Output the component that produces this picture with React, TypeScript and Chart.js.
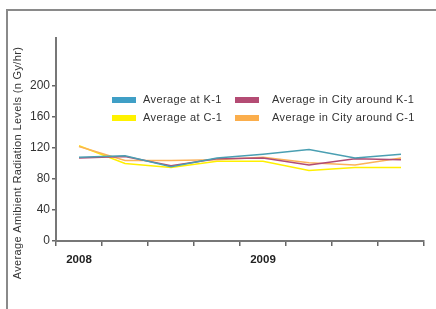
import { useEffect, useRef } from "react";
import { Chart, registerables } from "chart.js";

Chart.register(...registerables);

const categories = ["2008", "", "", "", "2009", "", "", ""];
const avgK1 = [108, 110, 96, 107, 112, 118, 107, 112];
const cityK1 = [107, 109, 97, 106, 107, 98, 106, 105];
const avgC1 = [123, 100, 95, 103, 103, 91, 95, 95];
const cityC1 = [122, 104, 104, 105, 108, 101, 98, 107];
const yTickValues = [0, 40, 80, 120, 160, 200];
const seriesNames = [
  "Average at K-1",
  "Average in City around K-1",
  "Average at C-1",
  "Average in City around C-1",
];
const seriesColors = ["#3f9fc6", "#b44c74", "#fff200", "#fbae4c"];
const lineColors = ["#4a9fb2", "#b04c74", "#fff000", "#fbb25a"];
const yTitle = "Average Amibient Radiation Levels (n Gy/hr)";

const FONT = "'Liberation Sans', Arial, sans-serif";

const overlayPlugin = {
  id: "overlay",
  afterDraw(chart: any) {
    const ctx = chart.ctx as CanvasRenderingContext2D;
    const area = chart.chartArea;
    ctx.save();
    // y-axis title
    ctx.font = `11px ${FONT}`;
    (ctx as any).letterSpacing = "0.35px";
    ctx.fillStyle = "#333";
    ctx.textAlign = "center";
    ctx.textBaseline = "middle";
    ctx.translate(18, 163);
    ctx.rotate(-Math.PI / 2);
    ctx.fillText(yTitle, 0, 0);
    ctx.restore();

    // legend
    ctx.save();
    ctx.font = `11px ${FONT}`;
    (ctx as any).letterSpacing = "0.4px";
    ctx.textBaseline = "middle";
    ctx.textAlign = "left";
    const colX = [area.left + 56, area.left + 179];
    const rowY = [area.top + 62, area.top + 80];
    for (let i = 0; i < 4; i++) {
      const col = i % 2;
      const row = Math.floor(i / 2);
      const x = colX[col];
      const y = rowY[row];
      ctx.fillStyle = seriesColors[i];
      ctx.fillRect(x, y - 3, 24, 6);
      ctx.fillStyle = "#333";
      ctx.fillText(seriesNames[i], x + (col === 0 ? 31 : 37), y);
    }
    ctx.restore();
  },
};

export default function App() {
  const ref = useRef<HTMLCanvasElement>(null);
  useEffect(() => {
    if (!ref.current) return;
    const data = [avgK1, cityK1, avgC1, cityC1];
    const order = [0, 1, 3, 2];
    const chart = new Chart(ref.current, {
      type: "line",
      data: {
        labels: categories,
        datasets: data.map((d, i) => ({
          label: seriesNames[i],
          data: d,
          borderColor: lineColors[i],
          backgroundColor: lineColors[i],
          borderWidth: 1.5,
          pointRadius: 0,
          tension: 0,
          fill: false,
          order: order[i],
        })),
      },
      options: {
        animation: false,
        responsive: false,
        maintainAspectRatio: false,
        layout: { padding: { top: 38, right: 12, left: 0, bottom: 0 } },
        plugins: { legend: { display: false }, tooltip: { enabled: false } },
        scales: {
          x: {
            offset: true,
            grid: {
              offset: true,
              drawOnChartArea: false,
              drawTicks: true,
              tickLength: 5,
              color: "#666",
              lineWidth: 1.5,
            },
            border: { color: "#777", width: 2 },
            ticks: {
              autoSkip: false,
              maxRotation: 0,
              color: "#222",
              padding: 7,
              font: { family: FONT, size: 11.5, weight: "bold" },
            },
            afterFit(scale: any) {
              scale.height = 68;
            },
          },
          y: {
            min: 0,
            max: 262,
            afterBuildTicks(scale: any) {
              scale.ticks = yTickValues.map((v) => ({ value: v }));
            },
            grid: {
              drawOnChartArea: false,
              tickLength: 4,
              color: "#666",
              lineWidth: 1.5,
            },
            border: { color: "#777", width: 2 },
            ticks: {
              color: "#333",
              padding: 2,
              font: { family: FONT, size: 12 },
            },
            afterFit(scale: any) {
              scale.width = 56;
            },
          },
        },
      },
      plugins: [overlayPlugin],
    });
    return () => chart.destroy();
  }, []);

  return (
    <div
      style={{
        position: "absolute",
        left: 0,
        top: 0,
        width: 436,
        height: 309,
        background: "#fff",
        overflow: "hidden",
      }}
    >
      <div
        style={{
          position: "absolute",
          left: 6,
          top: 9,
          width: 460,
          height: 320,
          borderLeft: "2px solid #8a8a8a",
          borderTop: "2px solid #8a8a8a",
        }}
      />
      <canvas
        ref={ref}
        width={436}
        height={309}
        style={{ position: "absolute", left: 0, top: 0, width: 436, height: 309 }}
      />
    </div>
  );
}
